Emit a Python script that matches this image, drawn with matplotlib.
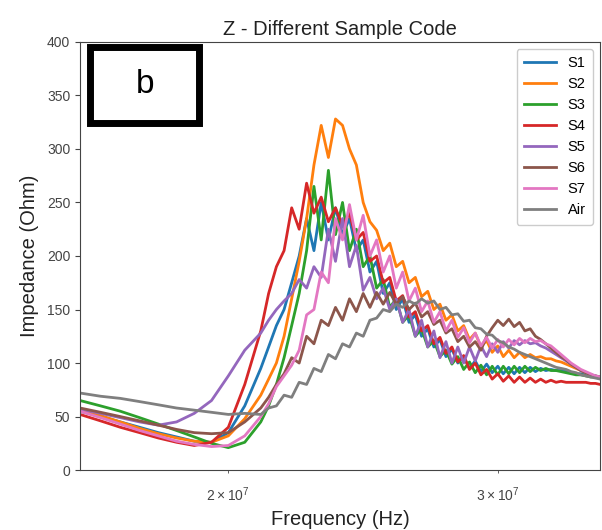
import numpy as np
import matplotlib.pyplot as plt
from matplotlib.patches import Rectangle

plt.rcParams['font.family'] = ['Liberation Sans', 'DejaVu Sans']

# frequency grid in MHz
freq_mhz = [16.0, 16.5, 17.0, 17.5, 18.0, 18.5, 19.0, 19.5, 20.0, 20.5, 21.0,
            21.25, 21.5, 21.75, 22.0, 22.25, 22.5, 22.75, 23.0, 23.25, 23.5, 23.75,
            24.0, 24.25, 24.5, 24.75, 25.0, 25.25, 25.5, 25.75, 26.0, 26.25, 26.5,
            26.75, 27.0, 27.25, 27.5, 27.75, 28.0, 28.25, 28.5, 28.75, 29.0, 29.25,
            29.5, 29.75, 30.0, 30.25, 30.5, 30.75, 31.0, 31.25, 31.5, 31.75, 32.0,
            32.25, 32.5, 32.75, 33.0, 33.25, 33.5, 33.75, 34.0, 34.25, 34.5, 34.75, 35.0]

s1 = [55, 50, 45, 40, 35, 31, 27, 26, 35, 60, 95,
      115, 135, 150, 175, 200, 235, 205, 250, 215, 245, 220,
      235, 205, 215, 185, 195, 165, 175, 150, 160, 138, 145,
      125, 132, 115, 122, 106, 113, 100, 106, 95, 102, 92,
      99, 91, 97, 90, 96, 90, 96, 91, 96, 92, 95,
      93, 94, 93, 93, 92, 91, 90, 90, 89, 88, 87, 86]

s2 = [57, 51, 45, 39, 34, 30, 27, 26, 32, 48, 70,
      85, 100, 125, 160, 195, 235, 285, 322, 292, 328, 322,
      300, 285, 250, 232, 224, 205, 212, 190, 195, 175, 180,
      162, 167, 150, 155, 140, 145, 130, 135, 122, 128, 115,
      121, 110, 116, 106, 112, 105, 110, 105, 108, 105, 106,
      104, 104, 102, 101, 99, 97, 95, 93, 91, 89, 87, 86]

s3 = [65, 60, 55, 49, 43, 37, 31, 25, 21, 26, 45,
      60, 80, 105, 135, 165, 205, 265, 215, 280, 220, 250,
      205, 225, 190, 200, 170, 178, 152, 160, 138, 145, 125,
      132, 115, 121, 106, 112, 99, 106, 94, 101, 91, 98,
      89, 97, 89, 97, 90, 97, 91, 97, 92, 96, 93,
      95, 93, 93, 92, 91, 90, 89, 89, 88, 87, 87, 86]

s4 = [52, 46, 40, 35, 30, 26, 23, 26, 40, 80, 130,
      165, 190, 205, 245, 225, 268, 240, 255, 232, 245, 228,
      240, 215, 222, 195, 200, 175, 180, 158, 163, 143, 148,
      130, 135, 118, 124, 109, 115, 101, 107, 94, 100, 89,
      94, 85, 90, 83, 88, 82, 87, 82, 86, 82, 85,
      82, 84, 82, 83, 82, 82, 82, 82, 82, 81, 81, 80]

s5 = [57, 53, 49, 45, 42, 45, 53, 65, 88, 112, 128,
      140, 150, 158, 165, 178, 170, 190, 180, 225, 195, 235,
      190, 210, 168, 180, 160, 170, 150, 160, 138, 150, 125,
      140, 115, 130, 105, 120, 100, 115, 100, 115, 102, 116,
      106, 118, 110, 120, 114, 121, 117, 121, 118, 119, 116,
      114, 111, 108, 105, 102, 99, 96, 93, 91, 89, 88, 87]

s6 = [58, 54, 50, 46, 42, 38, 35, 34, 35, 45, 58,
      68, 80, 90, 105, 100, 125, 118, 140, 135, 152, 140,
      160, 148, 165, 152, 166, 155, 166, 155, 162, 150, 156,
      143, 148, 136, 140, 128, 132, 120, 125, 115, 120, 112,
      125, 133, 140, 135, 141, 134, 138, 130, 132, 125, 122,
      118, 114, 110, 106, 103, 99, 96, 93, 91, 89, 88, 87]

s7 = [55, 49, 43, 37, 32, 27, 24, 22, 23, 32, 50,
      62, 78, 88, 98, 112, 145, 150, 185, 175, 235, 215,
      248, 215, 238, 200, 215, 185, 200, 170, 185, 158, 170,
      148, 158, 138, 148, 130, 140, 124, 133, 119, 128, 116,
      124, 114, 122, 115, 122, 117, 123, 119, 123, 120, 121,
      118, 116, 112, 108, 104, 100, 97, 94, 92, 90, 88, 87]

air = [72, 69, 67, 64, 61, 58, 56, 54, 52, 53, 52,
       58, 60, 70, 68, 82, 80, 95, 92, 108, 104, 118,
       115, 128, 125, 140, 142, 150, 148, 155, 152, 158, 155,
       160, 156, 158, 150, 152, 145, 146, 139, 140, 133, 132,
       127, 126, 121, 119, 115, 113, 110, 108, 106, 104, 102,
       100, 98, 96, 95, 94, 92, 91, 89, 88, 87, 86, 85]

labels = ['S1', 'S2', 'S3', 'S4', 'S5', 'S6', 'S7', 'Air']
series = [s1, s2, s3, s4, s5, s6, s7, air]
colors = ['#1f77b4', '#ff7f0e', '#2ca02c', '#d62728', '#9467bd',
          '#8c564b', '#e377c2', '#7f7f7f']

freq = np.array(freq_mhz) * 1e6

fig = plt.figure(figsize=(6.02, 5.30), dpi=100)
ax = fig.add_axes([0.133, 0.113, 0.864, 0.808])

for vals, lab, col in zip(series, labels, colors):
    ax.plot(freq, vals, color=col, lw=2, label=lab)

ax.set_xscale('log')
ax.set_xlim(16e6, 35e6)
ax.set_ylim(0, 400)
ax.set_yticks(np.arange(0, 401, 50))

ax.set_title('Z - Different Sample Code', fontsize=14.5, color='#222222', pad=5)
ax.set_xlabel('Frequency (Hz)', fontsize=14.5, color='#222222', labelpad=4)
ax.set_ylabel('Impedance (Ohm)', fontsize=14.5, color='#222222', labelpad=6)
ax.tick_params(axis='both', which='both', labelsize=10, labelcolor='#444444',
               color='#444444')
ax.tick_params(axis='x', which='both', pad=9)
for sp in ax.spines.values():
    sp.set_color('#444444')

ax.legend(loc='upper right', fontsize=10.5, handlelength=2.2,
          labelspacing=0.48, borderpad=0.5, framealpha=1)

# the "b" panel label box
fig.patches.append(Rectangle((0.150, 0.767), 0.180, 0.145, transform=fig.transFigure,
                             fill=True, facecolor='white', edgecolor='black',
                             lw=5, zorder=10))
fig.text(0.241, 0.840, 'b', fontsize=24, ha='center', va='center', zorder=11)

plt.savefig('out.png', dpi=100)
